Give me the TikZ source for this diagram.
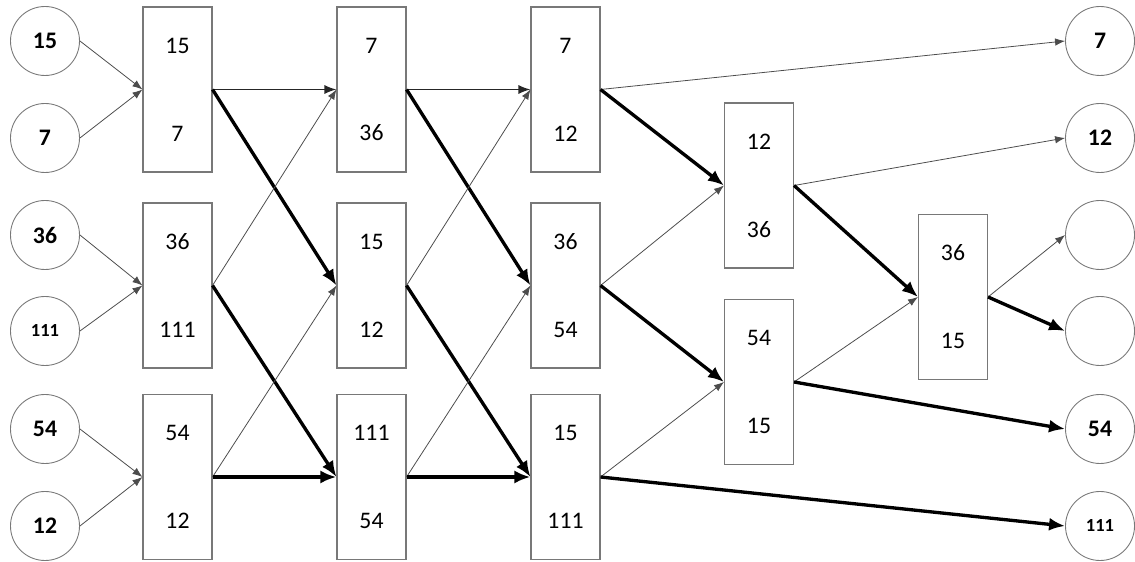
\documentclass[tikz,border=0pt]{standalone}
\usepackage{fontspec}
\setmainfont{Carlito}
\usepackage{tikz}
\usetikzlibrary{arrows.meta}
\definecolor{edgegray}{RGB}{120,120,120}
\newcommand{\numfont}{\fontsize{13.5}{16}\selectfont}

\begin{document}
\begin{tikzpicture}[scale=1.0,
    leaf/.style={circle, draw=edgegray, line width=0.5pt, minimum size=1.38cm,
      inner sep=0pt, font=\bfseries\numfont},
    cmp/.style={rectangle, draw=edgegray, line width=0.6pt, minimum width=1.38cm,
      minimum height=3.3cm, inner sep=0pt, align=center, font=\numfont},
    lo/.style={-{Latex[length=2mm, width=1.5mm]}, line width=0.45pt, black!70},
    mid/.style={-{Latex[length=2.4mm, width=1.8mm]}, line width=0.8pt, black!85},
    hi/.style={-{Latex[length=3.2mm, width=2.6mm]}, line width=1.9pt, black}]
  \useasboundingbox (0,0) rectangle (22.7,11.24);

  % --- inputs ---
  \node[leaf] (i1) at (0.9, 10.42) {15};
  \node[leaf] (i2) at (0.9, 8.48) {7};
  \node[leaf] (i3) at (0.9, 6.54) {36};
  \node[leaf, font=\bfseries\fontsize{10.5}{12}\selectfont] (i4) at (0.9, 4.62) {111};
  \node[leaf] (i5) at (0.9, 2.66) {54};
  \node[leaf] (i6) at (0.9, 0.72) {12};

  % --- comparators, stage 1 ---
  \node[cmp] (a1) at (3.55, 9.45) {15\\[34pt]7};
  \node[cmp] (a2) at (3.55, 5.53) {36\\[34pt]111};
  \node[cmp] (a3) at (3.55, 1.70) {54\\[34pt]12};
  % stage 2
  \node[cmp] (b1) at (7.43, 9.45) {7\\[34pt]36};
  \node[cmp] (b2) at (7.43, 5.53) {15\\[34pt]12};
  \node[cmp] (b3) at (7.43, 1.70) {111\\[34pt]54};
  % stage 3
  \node[cmp] (c1) at (11.31, 9.45) {7\\[34pt]12};
  \node[cmp] (c2) at (11.31, 5.53) {36\\[34pt]54};
  \node[cmp] (c3) at (11.31, 1.70) {15\\[34pt]111};
  % stage 4
  \node[cmp] (d1) at (15.18, 7.53) {12\\[34pt]36};
  \node[cmp] (d2) at (15.18, 3.60) {54\\[34pt]15};
  % stage 5
  \node[cmp] (e1) at (19.06, 5.30) {36\\[34pt]15};

  % --- outputs ---
  \node[leaf] (o1) at (22.0, 10.42) {7};
  \node[leaf] (o2) at (22.0, 8.48) {12};
  \node[leaf] (o3) at (22.0, 6.54) {};
  \node[leaf] (o4) at (22.0, 4.62) {};
  \node[leaf] (o5) at (22.0, 2.66) {54};
  \node[leaf, font=\bfseries\fontsize{10.5}{12}\selectfont] (o6) at (22.0, 0.72) {111};

  % inputs into stage 1
  \draw[lo] (i1.east) -- (a1.west);
  \draw[lo] (i2.east) -- (a1.west);
  \draw[lo] (i3.east) -- (a2.west);
  \draw[lo] (i4.east) -- (a2.west);
  \draw[lo] (i5.east) -- (a3.west);
  \draw[lo] (i6.east) -- (a3.west);

  % stage 1 -> stage 2
  \draw[mid] (a1.east) -- (b1.west);
  \draw[hi] (a1.east) -- (b2.west);
  \draw[lo] (a2.east) -- (b1.west);
  \draw[hi] (a2.east) -- (b3.west);
  \draw[lo] (a3.east) -- (b2.west);
  \draw[hi] (a3.east) -- (b3.west);

  % stage 2 -> stage 3
  \draw[mid] (b1.east) -- (c1.west);
  \draw[hi] (b1.east) -- (c2.west);
  \draw[lo] (b2.east) -- (c1.west);
  \draw[hi] (b2.east) -- (c3.west);
  \draw[lo] (b3.east) -- (c2.west);
  \draw[hi] (b3.east) -- (c3.west);

  % stage 3 -> stage 4
  \draw[lo] (c1.east) -- (o1.west);
  \draw[hi] (c1.east) -- (d1.west);
  \draw[lo] (c2.east) -- (d1.west);
  \draw[hi] (c2.east) -- (d2.west);
  \draw[lo] (c3.east) -- (d2.west);
  \draw[hi] (c3.east) -- (o6.west);

  % stage 4 -> stage 5
  \draw[lo] (d1.east) -- (o2.west);
  \draw[hi] (d1.east) -- (e1.west);
  \draw[lo] (d2.east) -- (e1.west);
  \draw[hi] (d2.east) -- (o5.west);

  % stage 5 -> outputs
  \draw[lo] (e1.east) -- (o3.west);
  \draw[hi] (e1.east) -- (o4.west);
\end{tikzpicture}
\end{document}
